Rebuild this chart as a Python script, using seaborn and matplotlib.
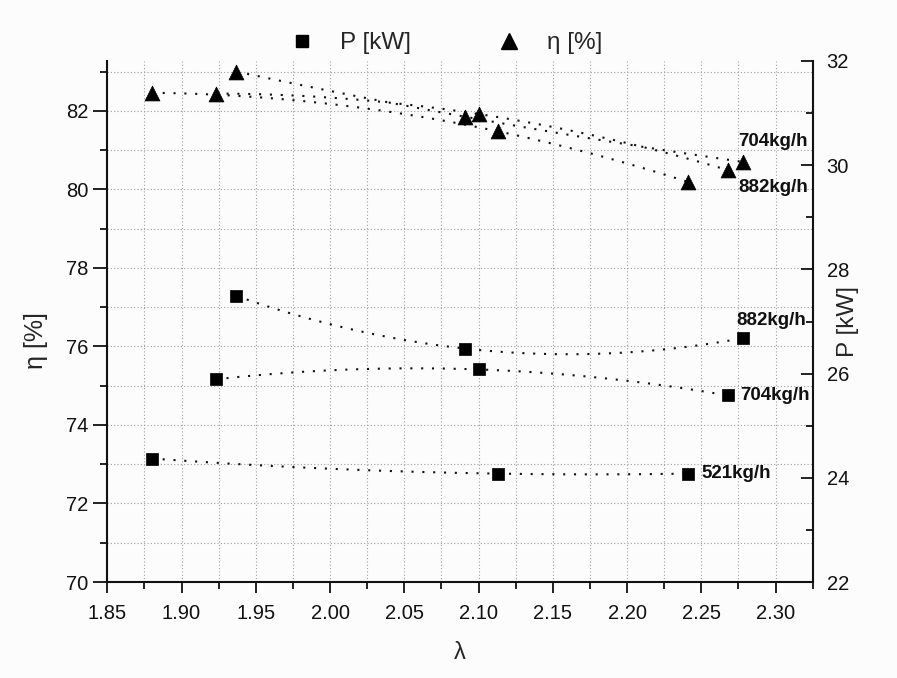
import numpy as np
import pandas as pd
import matplotlib
matplotlib.use("Agg")
import matplotlib.pyplot as plt
from matplotlib.ticker import MultipleLocator
from matplotlib.lines import Line2D
import seaborn as sns

# ---------------- data ----------------
lam_521 = [1.880, 2.113, 2.241]
lam_704 = [1.923, 2.100, 2.268]
lam_882 = [1.937, 2.091, 2.278]

eta_521 = [82.46, 81.48, 80.19]
eta_704 = [82.44, 81.92, 80.49]
eta_882 = [83.00, 81.85, 80.70]

p_521 = [24.37, 24.08, 24.08]
p_704 = [25.89, 26.08, 25.58]
p_882 = [27.49, 26.48, 26.68]

flow_labels = ["521kg/h", "704kg/h", "882kg/h"]
x_ticks = [1.85, 1.90, 1.95, 2.00, 2.05, 2.10, 2.15, 2.20, 2.25, 2.30]
eta_ticks = [70, 72, 74, 76, 78, 80, 82]
p_ticks = [22, 24, 26, 28, 30, 32]

# ---------------- style ----------------
sns.set_style("ticks")
plt.rcParams['font.family'] = ['Liberation Sans', 'DejaVu Sans']

fig = plt.figure(figsize=(8.97, 6.78), dpi=100)
fig.patch.set_facecolor('#fcfcfc')
L, R, B, T = 107.3 / 897, 812.7 / 897, 1 - 582 / 678, 1 - 61 / 678
ax = fig.add_axes([L, B, R - L, T - B])
ax.set_facecolor('#fcfcfc')
ax2 = ax.twinx()

groups = pd.DataFrame({
    "lam": lam_521 + lam_704 + lam_882,
    "eta": eta_521 + eta_704 + eta_882,
    "P": p_521 + p_704 + p_882,
    "flow": [flow_labels[0]] * 3 + [flow_labels[1]] * 3 + [flow_labels[2]] * 3,
})

dot = (0, (1, 4.2))
# quadratic trend lines through each group's points
for fl in flow_labels:
    g = groups[groups.flow == fl]
    xs = np.linspace(g.lam.min(), g.lam.max(), 200)
    ce = np.polyfit(g.lam, g.eta, 2)
    cp = np.polyfit(g.lam, g.P, 2)
    fit = pd.DataFrame({"lam": xs, "eta": np.polyval(ce, xs), "P": np.polyval(cp, xs)})
    sns.lineplot(data=fit, x="lam", y="eta", ax=ax, color='#111111', lw=1.5,
                 linestyle=dot, zorder=3, legend=False)
    sns.lineplot(data=fit, x="lam", y="P", ax=ax2, color='#111111', lw=1.5,
                 linestyle=dot, zorder=3, legend=False)

sns.scatterplot(data=groups, x="lam", y="eta", ax=ax, marker='^', s=115,
                color='black', edgecolor='black', linewidth=0.5, zorder=5, legend=False)
sns.scatterplot(data=groups, x="lam", y="P", ax=ax2, marker='s', s=85,
                color='black', edgecolor='black', linewidth=0.5, zorder=5, legend=False)

# ---------------- axes ----------------
ax.set_xlim(1.85, 2.325)
ax.set_ylim(70, 83.27)
ax2.set_ylim(22, 32)

ax.set_xticks(x_ticks)
ax.set_xticklabels([f"{v:.2f}" for v in x_ticks])
ax.xaxis.set_minor_locator(MultipleLocator(0.025))
ax.set_yticks(eta_ticks)
ax.yaxis.set_minor_locator(MultipleLocator(1))
ax2.set_yticks(p_ticks)
ax2.yaxis.set_minor_locator(MultipleLocator(1))

ax.grid(True, which='both', axis='both', color='#a0a0a0', linestyle=(0, (1, 2)), lw=0.8)
ax.set_axisbelow(True)

for a in (ax, ax2):
    a.spines['top'].set_visible(False)
    for s in ('left', 'right', 'bottom'):
        a.spines[s].set_linewidth(1.5)
        a.spines[s].set_color('#111111')
ax.spines['right'].set_visible(False)
ax2.spines['left'].set_visible(False)
ax2.spines['bottom'].set_visible(False)

ax.tick_params(axis='both', which='major', direction='out', length=8, width=1.3,
               labelsize=14.5, color='#111111', labelcolor='#111111')
ax.tick_params(axis='both', which='minor', direction='out', length=5, width=1.3, color='#111111')
ax.tick_params(axis='x', which='major', pad=8)
ax.tick_params(axis='y', which='major', length=10)
ax2.tick_params(axis='y', which='major', direction='in', length=9, width=1.3,
                labelsize=14.5, color='#111111', labelcolor='#111111', pad=10)
ax2.tick_params(axis='y', which='minor', direction='in', length=5, width=1.3, color='#111111')

ax.set_xlabel("")
ax.set_ylabel("")
ax2.set_ylabel("")
fig.text(36 / 897, 1 - 341 / 678, "η [%]", rotation=90, ha='center', va='center', fontsize=18)
fig.text(848 / 897, 1 - 322 / 678, "P [kW]", rotation=90, ha='center', va='center', fontsize=17.5)
fig.text(460 / 897, 1 - 653 / 678, "λ", ha='center', va='center', fontsize=17)

# ---------------- flow labels ----------------
lab_kw = dict(fontsize=13.5, fontweight='bold', color='#111111', va='center', ha='left',
              textcoords='offset points', zorder=6)
ax2.annotate(flow_labels[0], xy=(lam_521[2], p_521[2]), xytext=(9.4, 0), **lab_kw)
ax2.annotate(flow_labels[1], xy=(lam_704[2], p_704[2]), xytext=(8.9, 0), **lab_kw)
ax2.annotate(flow_labels[2], xy=(lam_882[2], p_882[2]), xytext=(-5, 13), **lab_kw)
ax.annotate(flow_labels[1], xy=(lam_882[2], eta_882[2]), xytext=(-3, 14.4), **lab_kw)
ax.annotate(flow_labels[2], xy=(lam_704[2], eta_704[2]), xytext=(7.5, -12.2), **lab_kw)

# ---------------- legend ----------------
h1 = Line2D([], [], marker='s', color='black', linestyle='none', markersize=8.5)
h2 = Line2D([], [], marker='^', color='black', linestyle='none', markersize=11)
fig.legend([h1, h2], ["P [kW]", "η [%]"], loc='center', ncol=2, frameon=False,
           bbox_to_anchor=(446 / 897, 1 - 43 / 678), fontsize=17.5,
           handlelength=1.0, handletextpad=1.07, columnspacing=3.5)

fig.savefig("out.png", dpi=100, facecolor=fig.get_facecolor())
